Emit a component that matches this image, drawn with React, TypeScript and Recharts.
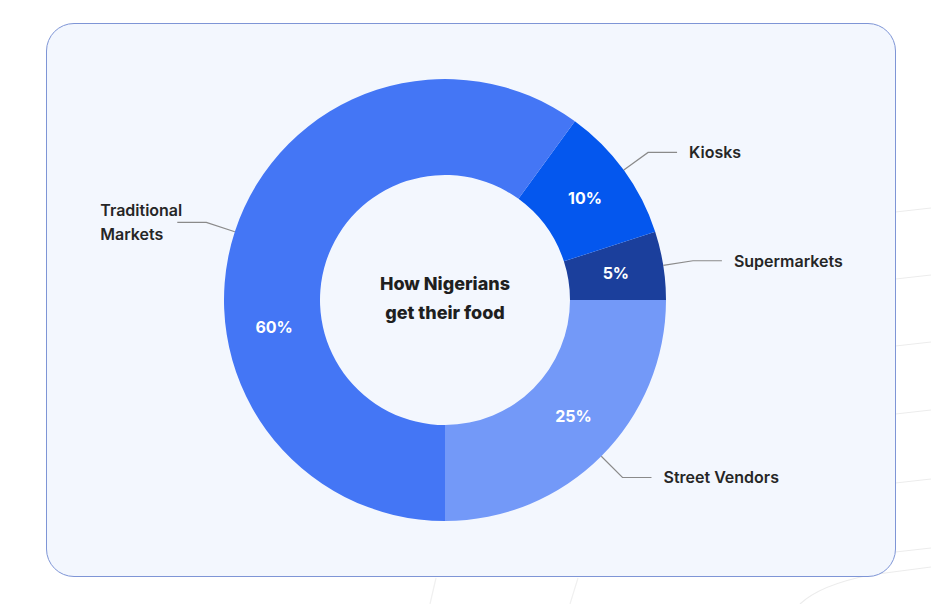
import { PieChart, Pie, Cell } from "recharts";

const categories = ["Supermarkets", "Kiosks", "Traditional Markets", "Street Vendors"];
const shares = [5, 10, 60, 25];
const sliceColors = ["#1B3F9C", "#0457EE", "#4476F5", "#7399F8"];
const centerTitle = ["How Nigerians", "get their food"];

const data = categories.map((name, i) => ({ name, value: shares[i] }));

const RADIAN = Math.PI / 180;
const FONT = "Inter, 'Noto Sans', sans-serif";
// the big slice has its percent sitting lower than its midpoint
const pctShift: Record<string, number> = { "Traditional Markets": 27, "Street Vendors": 3 };

const renderLabel = (props: any) => {
  const { cx, cy, midAngle, innerRadius, outerRadius, name, value } = props;
  const cos = Math.cos(-midAngle * RADIAN);
  const sin = Math.sin(-midAngle * RADIAN);
  // percent inside the ring
  const pa = (midAngle + (pctShift[name] || 0)) * RADIAN;
  const mr = (innerRadius + outerRadius) / 2;
  const px = cx + mr * Math.cos(-pa);
  const py = cy + mr * Math.sin(-pa);
  // leader line
  const sx = cx + outerRadius * cos;
  const sy = cy + outerRadius * sin;
  const mx = cx + (outerRadius + 30) * cos;
  const my = cy + (outerRadius + 30) * sin;
  const right = cos >= 0;
  const ex = mx + (right ? 29 : -29);
  const words = name === "Traditional Markets" ? ["Traditional", "Markets"] : [name];
  return (
    <g>
      <text x={px} y={py} fill="#ffffff" textAnchor="middle" dominantBaseline="central"
        fontFamily={FONT} fontSize={16} fontWeight={700}>
        {`${value}%`}
      </text>
      <polyline points={`${sx},${sy} ${mx},${my} ${ex},${my}`} fill="none" stroke="#8a8a8a" strokeWidth={1.2} />
      {right ? (
        <text x={ex + 12} y={my} fill="#262626" textAnchor="start" dominantBaseline="central"
          fontFamily={FONT} fontSize={16} fontWeight={600}>
          {name}
        </text>
      ) : (
        <text x={ex - 77} y={my - 12 * (words.length - 1)} fill="#262626" textAnchor="start" dominantBaseline="central"
          fontFamily={FONT} fontSize={16} fontWeight={600}>
          {words.map((w, i) => (
            <tspan key={w} x={ex - 77} dy={i === 0 ? 0 : 24}>{w}</tspan>
          ))}
        </text>
      )}
    </g>
  );
};

export default function App() {
  return (
    <div style={{ position: "fixed", left: 0, top: 0, width: 931, height: 604, background: "#ffffff", overflow: "hidden" }}>
      <svg width={931} height={604} style={{ position: "absolute", left: 0, top: 0 }}>
        {[212, 279, 346, 414, 483, 552].map((y) => (
          <line key={y} x1={860} y1={y + 4} x2={931} y2={y - 4} stroke="#ececec" strokeWidth={1.2} />
        ))}
        <path d="M 800 604 Q 820 585 870 575 L 931 567" fill="none" stroke="#ececec" strokeWidth={1.2} />
        <path d="M 430 604 L 436 578" fill="none" stroke="#f0f0f0" strokeWidth={1.2} />
        <path d="M 570 604 L 578 578" fill="none" stroke="#f0f0f0" strokeWidth={1.2} />
      </svg>
      <div style={{
        position: "absolute", left: 46, top: 23, width: 848, height: 552,
        border: "1px solid #7E95D6", borderRadius: 28, background: "#F3F7FE",
      }} />
      <div style={{ position: "absolute", left: 0, top: 0 }}>
        <PieChart width={931} height={604} margin={{ top: 0, right: 0, bottom: 0, left: 0 }}>
          <Pie
            data={data}
            dataKey="value"
            nameKey="name"
            cx={445}
            cy={300}
            innerRadius={125}
            outerRadius={221}
            startAngle={0}
            endAngle={360}
            stroke="none"
            label={renderLabel}
            labelLine={false}
            isAnimationActive={false}
          >
            {data.map((d, i) => (
              <Cell key={d.name} fill={sliceColors[i]} />
            ))}
          </Pie>
          <text x={445} y={283} textAnchor="middle" dominantBaseline="central"
            fontFamily={FONT} fontSize={18} fontWeight={800} fill="#1f1f1f">
            {centerTitle[0]}
          </text>
          <text x={445} y={312} textAnchor="middle" dominantBaseline="central"
            fontFamily={FONT} fontSize={18} fontWeight={800} fill="#1f1f1f">
            {centerTitle[1]}
          </text>
        </PieChart>
      </div>
    </div>
  );
}
